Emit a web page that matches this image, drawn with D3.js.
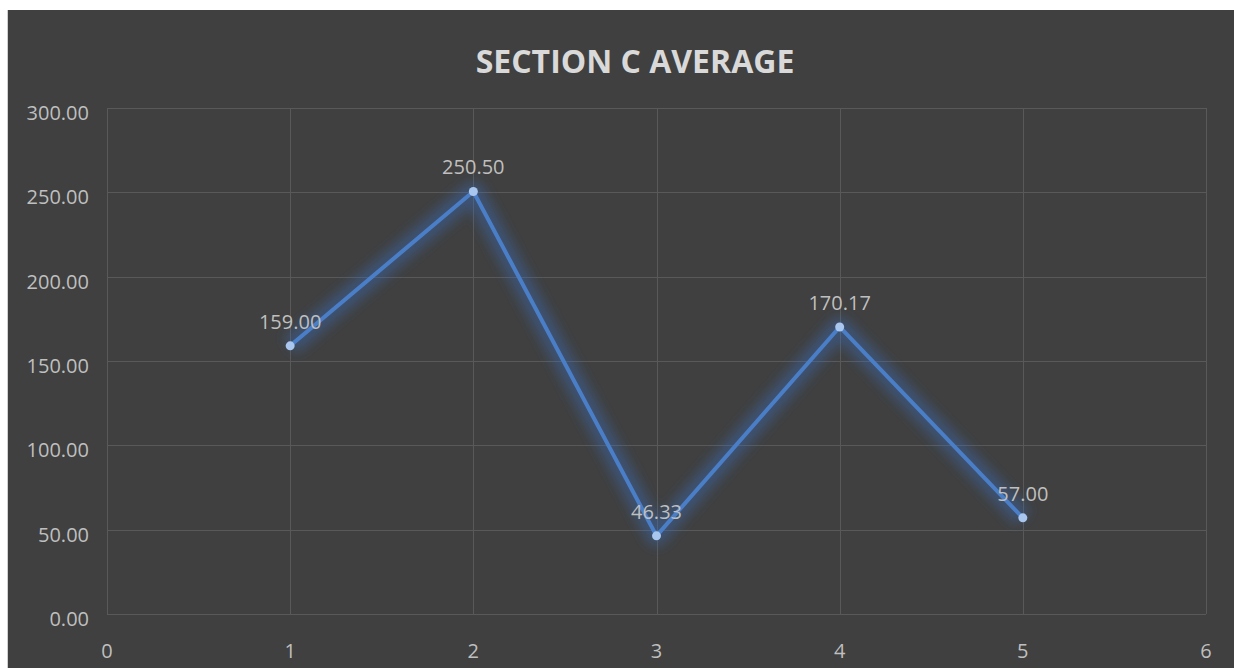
<!DOCTYPE html>
<html>
<head>
<meta charset="utf-8">
<script src="https://cdn.jsdelivr.net/npm/d3@7"></script>
<style>
  html, body { margin: 0; padding: 0; background: #ffffff; }
  svg { display: block; }
</style>
</head>
<body>
<div id="chart"></div>
<script>
(() => {
  const width = 1234;
  const height = 668;

  // data
  const categories = [1, 2, 3, 4, 5];
  const values = [159.00, 250.50, 46.33, 170.17, 57.00];
  const xTicks = [0, 1, 2, 3, 4, 5, 6];
  const yTicks = [0, 50, 100, 150, 200, 250, 300];
  const title = "SECTION C AVERAGE";

  const plot = { left: 107, top: 108, right: 1206, bottom: 614 };

  const svg = d3.select("#chart")
    .append("svg")
    .attr("width", width)
    .attr("height", height);

  const defs = svg.append("defs");
  const glow = defs.append("filter")
    .attr("id", "glow")
    .attr("x", "-20%").attr("y", "-20%")
    .attr("width", "140%").attr("height", "140%");
  glow.append("feGaussianBlur")
    .attr("in", "SourceGraphic")
    .attr("stdDeviation", 6)
    .attr("result", "blur");

  // chart area background
  svg.append("rect")
    .attr("x", 7).attr("y", 10)
    .attr("width", width - 7).attr("height", height - 10)
    .attr("fill", "#404040");
  svg.append("line")
    .attr("x1", 7.5).attr("x2", 7.5)
    .attr("y1", 10).attr("y2", height)
    .attr("stroke", "#d0d0d0")
    .attr("stroke-width", 1);

  const x = d3.scaleLinear().domain([0, 6]).range([plot.left, plot.right]);
  const y = d3.scaleLinear().domain([0, 300]).range([plot.bottom, plot.top]);

  // gridlines
  svg.append("g")
    .selectAll("line")
    .data(yTicks)
    .enter()
    .append("line")
    .attr("x1", plot.left).attr("x2", plot.right)
    .attr("y1", d => Math.round(y(d)) + 0.5)
    .attr("y2", d => Math.round(y(d)) + 0.5)
    .attr("stroke", "#595959")
    .attr("stroke-width", 1);

  svg.append("g")
    .selectAll("line")
    .data(xTicks)
    .enter()
    .append("line")
    .attr("y1", plot.top).attr("y2", plot.bottom)
    .attr("x1", d => Math.round(x(d)) + 0.5)
    .attr("x2", d => Math.round(x(d)) + 0.5)
    .attr("stroke", "#595959")
    .attr("stroke-width", 1);

  // axis labels
  const font = "'Open Sans', 'Noto Sans', sans-serif";
  svg.append("g")
    .selectAll("text")
    .data(yTicks)
    .enter()
    .append("text")
    .attr("x", plot.left - 18)
    .attr("y", d => y(d) + 12)
    .attr("text-anchor", "end")
    .attr("fill", "#bfbfbf")
    .style("font-family", font)
    .style("font-size", "20px")
    .text(d => d.toFixed(2));

  svg.append("g")
    .selectAll("text")
    .data(xTicks)
    .enter()
    .append("text")
    .attr("x", d => x(d))
    .attr("y", 658)
    .attr("text-anchor", "middle")
    .attr("fill", "#bfbfbf")
    .style("font-family", font)
    .style("font-size", "20px")
    .text(d => d);

  // title
  svg.append("text")
    .attr("x", 635)
    .attr("y", 73)
    .attr("text-anchor", "middle")
    .attr("fill", "#d9d9d9")
    .style("font-family", font)
    .style("font-weight", "bold")
    .style("font-size", "32px")
    .text(title);

  const points = categories.map((c, i) => ({ c, v: values[i] }));

  const line = d3.line()
    .x(d => x(d.c))
    .y(d => y(d.v));

  // glow
  svg.append("path")
    .datum(points)
    .attr("d", line)
    .attr("fill", "none")
    .attr("stroke", "#3a6fc0")
    .attr("stroke-width", 20)
    .attr("stroke-opacity", 0.4)
    .attr("stroke-linejoin", "round")
    .attr("filter", "url(#glow)");

  svg.append("path")
    .datum(points)
    .attr("d", line)
    .attr("fill", "none")
    .attr("stroke", "#4a7fc8")
    .attr("stroke-width", 4)
    .attr("stroke-linejoin", "round");

  svg.append("g")
    .selectAll("circle")
    .data(points)
    .enter()
    .append("circle")
    .attr("cx", d => x(d.c))
    .attr("cy", d => y(d.v))
    .attr("r", 4.5)
    .attr("fill", "#a9c6ee");

  // data labels
  svg.append("g")
    .selectAll("text")
    .data(points)
    .enter()
    .append("text")
    .attr("x", d => x(d.c))
    .attr("y", d => y(d.v) - 17)
    .attr("text-anchor", "middle")
    .attr("fill", "#bfbfbf")
    .style("font-family", font)
    .style("font-size", "20px")
    .text(d => d.v.toFixed(2));
})();
</script>
</body>
</html>
